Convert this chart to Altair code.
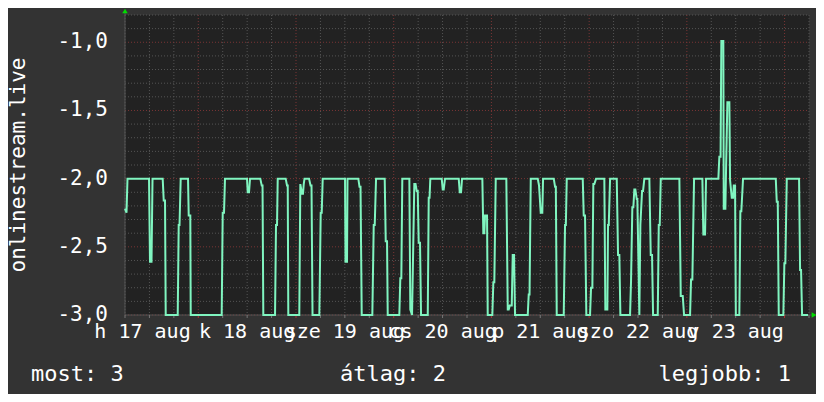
import altair as alt
import pandas as pd

# ---- data (hours since left edge, value) ----
times = [
    0.00, 0.37, 0.61,
    5.90, 6.14, 6.51, 6.76,
    9.26, 9.51, 9.83, 10.00,
    12.95, 13.19, 13.39, 13.68,
    15.48, 15.65, 16.04, 16.14,
    23.75, 24.00, 24.32, 24.56,
    29.97, 30.14, 30.46, 30.71,
    33.23, 33.58, 33.78, 33.97,
    36.85, 37.09, 37.34, 37.51,
    39.47, 39.79, 39.97, 40.11,
    42.81, 43.06, 43.48, 43.72, 43.90, 44.09,
    45.20, 45.57, 45.81, 46.06,
    47.73, 48.07, 48.32, 48.56,
    54.04, 54.16, 54.53, 54.65,
    57.31, 57.60, 57.85, 58.14,
    60.75, 61.09, 61.34, 61.66,
    63.79, 64.04, 64.36, 64.53,
    67.38, 67.62, 67.87, 68.11,
    69.84, 70.08, 70.50, 71.06, 71.36, 71.65, 71.90, 72.14, 72.46, 72.71,
    74.36, 74.60, 74.80, 74.99,
    77.79, 78.04, 78.28, 78.60,
    81.97, 82.22, 82.54, 82.78,
    87.77, 88.01, 88.26, 88.43, 88.92, 89.09,
    90.22, 90.47, 90.71, 91.06,
    93.66, 94.01, 94.25, 94.50, 94.99, 95.23, 95.55, 95.80,
    98.92, 99.16, 99.36, 99.66,
    101.38, 101.69, 102.11, 102.50, 102.68,
    105.31, 105.63, 105.82, 106.04,
    107.76, 108.08, 108.28, 108.50,
    112.43, 112.67, 112.99, 113.31,
    114.22, 114.47, 114.79, 115.03, 115.28, 115.70,
    117.73, 117.98, 118.47, 118.64, 118.82, 119.14,
    120.78, 121.10, 121.42, 121.67,
    124.05, 124.29, 124.61, 124.86, 125.10, 125.35, 125.69, 125.84,
    126.33,
    126.58, 127.00, 127.24, 127.56,
    128.79, 129.13, 129.45, 129.70,
    130.85, 131.10, 131.34, 131.59,
    136.16, 136.50, 136.99, 137.31,
    138.79, 139.03, 139.35, 139.77,
    141.81, 142.05, 142.47, 142.71,
    145.74, 145.98, 146.28, 146.47, 146.96, 147.06, 147.46, 147.63,
    147.95, 148.44, 148.61, 149.03, 149.35, 149.52, 149.84, 150.03,
    150.89, 151.14, 151.38, 151.80,
    159.84, 160.08, 160.33, 160.57,
    161.70, 161.95, 162.19, 162.54,
    165.56, 165.81, 166.05, 166.30,
    167.77,
]
values = [
    -2.22, -2.25, -2.0,
    -2.0, -2.61, -2.61, -2.0,
    -2.0, -2.16, -2.16, -3.0,
    -3.0, -2.34, -2.34, -2.0,
    -2.0, -2.27, -2.27, -3.0,
    -3.0, -2.25, -2.25, -2.0,
    -2.0, -2.10, -2.10, -2.0,
    -2.0, -2.05, -2.05, -3.0,
    -3.0, -2.34, -2.34, -2.0,
    -2.0, -2.05, -2.05, -3.0,
    -3.0, -2.04, -2.11, -2.11, -2.04, -2.0,
    -2.0, -2.05, -2.05, -3.0,
    -3.0, -2.25, -2.25, -2.0,
    -2.0, -2.61, -2.61, -2.0,
    -2.0, -2.06, -2.06, -3.0,
    -3.0, -2.34, -2.34, -2.0,
    -2.0, -2.46, -2.46, -3.0,
    -3.0, -2.73, -2.73, -2.0,
    -2.0, -2.96, -3.0, -2.04, -2.04, -2.09, -2.09, -2.47, -2.47, -3.0,
    -3.0, -2.14, -2.14, -2.0,
    -2.0, -2.08, -2.08, -2.0,
    -2.0, -2.10, -2.10, -2.0,
    -2.0, -2.40, -2.40, -2.27, -2.27, -3.0,
    -3.0, -2.76, -2.76, -2.0,
    -2.0, -2.96, -2.96, -2.93, -2.93, -2.56, -2.56, -3.0,
    -3.0, -2.85, -2.85, -2.0,
    -2.0, -2.05, -2.25, -2.25, -2.0,
    -2.0, -2.06, -2.06, -3.0,
    -3.0, -2.34, -2.34, -2.0,
    -2.0, -2.27, -2.27, -3.0,
    -3.0, -2.80, -2.80, -2.04, -2.04, -2.0,
    -2.0, -2.96, -2.96, -2.34, -2.34, -2.0,
    -2.0, -2.56, -2.56, -3.0,
    -3.0, -2.75, -2.21, -2.21, -2.08, -2.08, -2.15, -2.15,
    -3.0,
    -2.34, -2.09, -2.09, -2.0,
    -2.0, -2.56, -2.56, -3.0,
    -3.0, -2.34, -2.34, -2.0,
    -2.0, -2.86, -2.86, -3.0,
    -3.0, -2.74, -2.74, -2.0,
    -2.0, -2.41, -2.41, -2.0,
    -2.0, -1.84, -1.84, -0.99, -0.99, -2.22, -2.22, -1.93,
    -1.44, -1.44, -2.01, -2.14, -2.14, -2.05, -2.05, -3.0,
    -3.0, -2.24, -2.24, -2.0,
    -2.0, -2.17, -2.17, -3.0,
    -3.0, -2.62, -2.62, -2.0,
    -2.0, -2.67, -2.67, -3.0,
    -3.0,
]

day_labels = ["h 17 aug", "k 18 aug", "sze 19 aug", "cs 20 aug",
              "p 21 aug", "szo 22 aug", "v 23 aug"]
label_hours = [4.3, 30, 54, 78, 102, 126, 150]
minor_x = [0, 6, 12, 24, 30, 36, 48, 54, 60, 72, 78, 84, 96, 102, 108,
           120, 126, 132, 144, 150, 156, 168]
major_x = [18, 42, 66, 90, 114, 138, 162]
minor_y = [-2.9, -2.8, -2.7, -2.6, -2.4, -2.3, -2.2, -2.1, -1.9, -1.8,
           -1.7, -1.6, -1.4, -1.3, -1.2, -1.1, -0.9, -0.8]
major_y = [-3.0, -2.5, -2.0, -1.5, -1.0]
y_tick_labels = ["-3,0", "-2,5", "-2,0", "-1,5", "-1,0"]
y_title = "onlinestream.live"
legend_items = ["most: 3", "átlag: 2", "legjobb: 1"]

FONT = "DejaVu Sans Mono"
W, H = 684, 300
xs = alt.Scale(domain=[0, 168], nice=False, zero=False)
ys = alt.Scale(domain=[-3.0, -0.8], nice=False, zero=False)

series = pd.DataFrame({"t": times, "v": values})
minor_x_df = pd.DataFrame({"t": minor_x})
major_x_df = pd.DataFrame({"t": major_x})
minor_y_df = pd.DataFrame({"v": minor_y})
major_y_df = pd.DataFrame({"v": major_y, "lab": y_tick_labels})
xlab_df = pd.DataFrame({"t": label_hours, "lab": day_labels})
one = pd.DataFrame({"k": [0]})

X = lambda: alt.X("t:Q", scale=xs, axis=None)
Y = lambda: alt.Y("v:Q", scale=ys, axis=None)

grid_minor_y = alt.Chart(minor_y_df).mark_rule(
    color="#555555", strokeWidth=1, strokeDash=[1, 2]
).encode(y=Y(), x=alt.value(0), x2=alt.value(W))
grid_minor_x = alt.Chart(minor_x_df).mark_rule(
    color="#555555", strokeWidth=1, strokeDash=[1, 2]
).encode(x=X(), y=alt.value(0), y2=alt.value(H))
grid_major_y = alt.Chart(major_y_df).mark_rule(
    color="#7a3535", strokeWidth=1, strokeDash=[1, 2]
).encode(y=Y(), x=alt.value(0), x2=alt.value(W))
grid_major_x = alt.Chart(major_x_df).mark_rule(
    color="#7a3535", strokeWidth=1, strokeDash=[1, 2]
).encode(x=X(), y=alt.value(0), y2=alt.value(H))

ticks_minor = alt.Chart(minor_x_df).mark_rule(color="#777777").encode(
    x=X(), y=alt.value(H), y2=alt.value(H + 3))
ticks_major = alt.Chart(major_x_df).mark_rule(color="#aa3333").encode(
    x=X(), y=alt.value(H), y2=alt.value(H + 3))

axis_bottom = alt.Chart(one).mark_rule(color="#555555").encode(
    x=alt.value(0), x2=alt.value(W + 4), y=alt.value(H))
axis_left = alt.Chart(one).mark_rule(color="#555555").encode(
    x=alt.value(0), y=alt.value(-3), y2=alt.value(H))

line = alt.Chart(series).mark_line(color="#80F5C0", strokeWidth=2).encode(
    x=X(), y=Y())

arrow_up = alt.Chart(one).mark_point(
    shape="triangle-up", filled=True, color="#00dd00", size=30, opacity=1
).encode(x=alt.value(0), y=alt.value(-4))
arrow_right = alt.Chart(one).mark_point(
    shape="triangle-right", filled=True, color="#00dd00", size=30, opacity=1
).encode(x=alt.value(W + 5), y=alt.value(H))

ylabels = alt.Chart(major_y_df).mark_text(
    font=FONT, fontSize=21, color="white", align="right", baseline="middle"
).encode(y=Y(), x=alt.value(-17), text="lab:N")

xlabels = alt.Chart(xlab_df).mark_text(
    font=FONT, fontSize=20, color="white", align="center", baseline="alphabetic"
).encode(x=X(), y=alt.value(H + 23), text="lab:N")

ytitle = alt.Chart(pd.DataFrame({"lab": [y_title]})).mark_text(
    font=FONT, fontSize=21, color="white", align="center", baseline="alphabetic",
    angle=270
).encode(x=alt.value(-100), y=alt.value(H / 2), text="lab:N")

leg_df = pd.DataFrame({"lab": legend_items})
leg1 = alt.Chart(leg_df.iloc[[0]]).mark_text(
    font=FONT, fontSize=22, color="white", align="left", baseline="alphabetic"
).encode(x=alt.value(-94), y=alt.value(366), text="lab:N")
leg2 = alt.Chart(leg_df.iloc[[1]]).mark_text(
    font=FONT, fontSize=22, color="white", align="center", baseline="alphabetic"
).encode(x=alt.value(268), y=alt.value(366), text="lab:N")
leg3 = alt.Chart(leg_df.iloc[[2]]).mark_text(
    font=FONT, fontSize=22, color="white", align="right", baseline="alphabetic"
).encode(x=alt.value(666), y=alt.value(366), text="lab:N")

chart = alt.layer(
    grid_minor_y, grid_minor_x, grid_major_y, grid_major_x,
    axis_bottom, axis_left, ticks_minor, ticks_major,
    line, arrow_up, arrow_right,
    ylabels, xlabels, ytitle, leg1, leg2, leg3,
).properties(
    width=W, height=H,
    background="#333333",
    padding={"left": 117, "top": 7, "right": 7, "bottom": 79},
    autosize=alt.AutoSizeParams(type="none"),
).configure_view(fill="#222222", stroke=None)

chart.save("out.html", embed_options={"renderer": "svg", "actions": False})
